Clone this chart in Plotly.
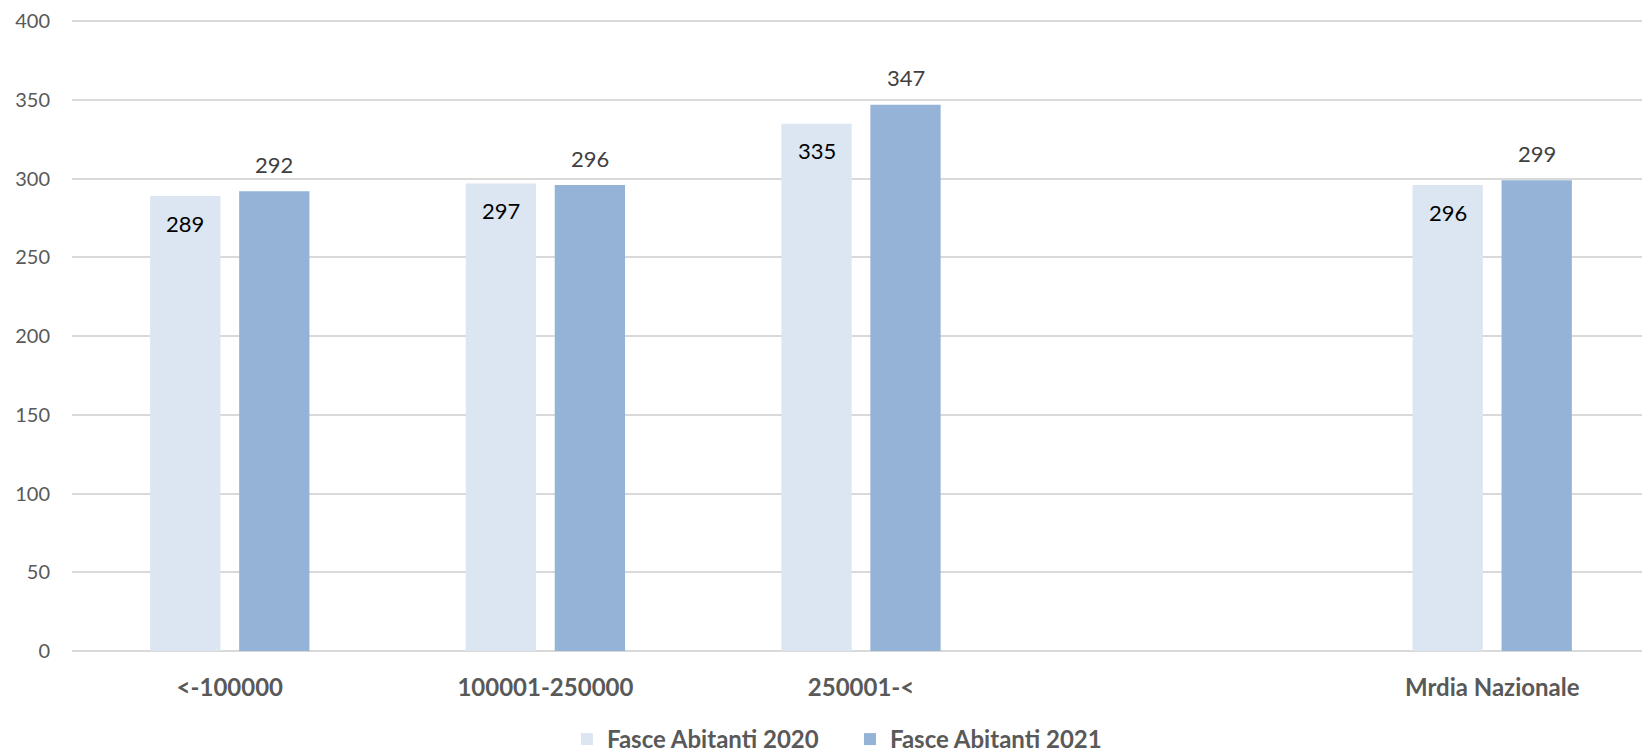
import plotly.graph_objects as go

categories = ["<-100000", "100001-250000", "250001-<", " ", "Mrdia Nazionale"]
values_2020 = [289, 297, 335, None, 296]
values_2021 = [292, 296, 347, None, 299]
series_names = ["Fasce Abitanti 2020", "Fasce Abitanti 2021"]
y_ticks = [0, 50, 100, 150, 200, 250, 300, 350, 400]

FONT = "Lato, 'Open Sans', sans-serif"
c2020 = "#dce6f2"
c2021 = "#95b3d7"

fig = go.Figure()
fig.add_trace(go.Bar(x=categories, y=values_2020, name=series_names[0],
                     marker=dict(color=c2020, line=dict(width=0))))
fig.add_trace(go.Bar(x=categories, y=values_2021, name=series_names[1],
                     marker=dict(color=c2021, line=dict(width=0))))

annotations = []
for cat, v in zip(categories, values_2020):
    if v is None:
        continue
    annotations.append(dict(x=cat, y=v, xref="x", yref="y", text=str(v), showarrow=False,
                            xshift=-44.5, yshift=-27, font=dict(family=FONT, size=22, color="#000000")))
for cat, v in zip(categories, values_2021):
    if v is None:
        continue
    annotations.append(dict(x=cat, y=v, xref="x", yref="y", text=str(v), showarrow=False,
                            xshift=44.5, yshift=27, font=dict(family=FONT, size=22, color="#404040")))

fig.update_layout(
    width=1650, height=751,
    margin=dict(l=64, r=8, t=11, b=108, autoexpand=False),
    paper_bgcolor="white", plot_bgcolor="white",
    barmode="group", bargap=0.436, bargroupgap=0.21,
    font=dict(family=FONT, color="#595959"),
    annotations=annotations,
    showlegend=True,
    legend=dict(orientation="h", x=0.493, xanchor="center", yref="container", y=0.026, yanchor="middle",
                font=dict(family=FONT, size=24, color="#595959", weight="bold"),
                itemsizing="constant", traceorder="normal", itemwidth=30, entrywidth=238),
    xaxis=dict(type="category", categoryorder="array", categoryarray=categories,
               showgrid=False, showline=False, zeroline=False, automargin=False,
               ticks="outside", ticklen=15, tickcolor="rgba(0,0,0,0)",
               tickfont=dict(family=FONT, size=24, color="#595959", weight="bold")),
    yaxis=dict(range=[0, 401.5], tickvals=y_ticks,
               showgrid=True, gridcolor="#d9d9d9", gridwidth=1.5,
               zeroline=True, zerolinecolor="#d9d9d9", zerolinewidth=2, showline=False,
               ticks="outside", ticklen=17, tickcolor="rgba(0,0,0,0)", automargin=False,
               ticklabeloverflow="allow",
               tickfont=dict(family=FONT, size=20, color="#595959")),
)

fig.write_html("out.html")
